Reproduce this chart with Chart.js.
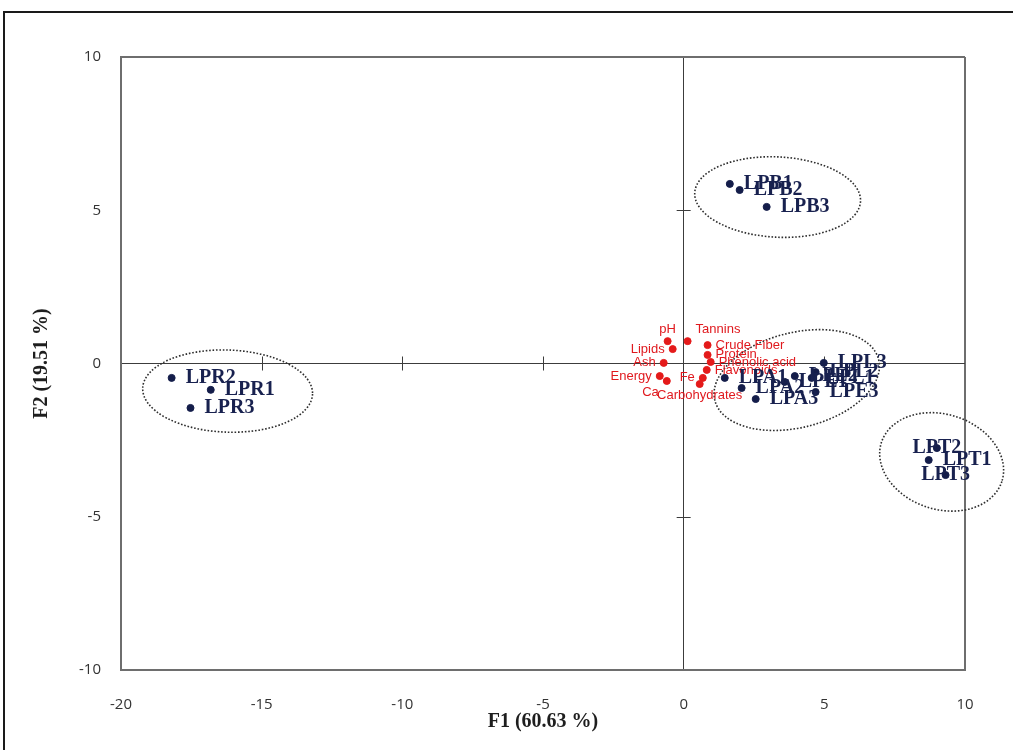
<!DOCTYPE html>
<html>
<head>
<meta charset="utf-8">
<script src="https://cdn.jsdelivr.net/npm/chart.js@4.4.1/dist/chart.umd.min.js"></script>
<style>
  html, body { margin: 0; padding: 0; background: #fff; }
  body { width: 1013px; height: 750px; position: relative; overflow: hidden; }
  #frame { position: absolute; left: 3px; top: 11px; width: 1100px; height: 800px;
           border-left: 2px solid #1a1a1a; border-top: 2px solid #1a1a1a; }
  #wrap { position: absolute; left: 0; top: 0; width: 1013px; height: 750px; }
</style>
</head>
<body>
<div id="frame"></div>
<div id="wrap"><canvas id="pca" width="1013" height="750"></canvas></div>
<script>
// observations (samples)
const obsNames = ["LPB1", "LPB2", "LPB3", "LPR1", "LPR2", "LPR3", "LPT1", "LPT2", "LPT3",
                  "LPE1", "LPE2", "LPE3", "LPL1", "LPL2", "LPL3", "LPA1", "LPA2", "LPA3"];
const obsF1 = [1.64, 1.99, 2.95, -16.81, -18.20, -17.53, 8.71, 9.00, 9.31,
               3.59, 3.95, 4.69, 4.55, 4.69, 4.98, 1.46, 2.06, 2.56];
const obsF2 = [5.86, 5.66, 5.11, -0.86, -0.47, -1.45, -3.15, -2.76, -3.64,
               -0.60, -0.41, -0.93, -0.47, -0.28, 0.02, -0.47, -0.80, -1.16];

// variables
const varNames = ["pH", "Lipids", "Ash", "Energy", "Ca", "Tannins", "Crude Fiber", "Protein",
                  "Phenolic acid", "Flavonoids", "Fe", "Carbohydrates"];
const varF1 = [-0.57, -0.39, -0.71, -0.85, -0.60, 0.14, 0.85, 0.85, 0.96, 0.82, 0.68, 0.57];
const varF2 = [0.73, 0.47, 0.02, -0.41, -0.57, 0.73, 0.60, 0.28, 0.05, -0.21, -0.47, -0.67];

// group ellipses (axis units)
const groupCx = [3.34, -16.21, 9.17, 4.02];
const groupCy = [5.43, -0.90, -3.21, -0.54];
const groupRx = [2.95, 3.02, 2.25, 3.0];
const groupRy = [1.31, 1.34, 1.55, 1.55];
const groupTilt = [3, 2, 18, -14];

const xTicks = [-20, -15, -10, -5, 0, 5, 10];
const yTicks = [-10, -5, 0, 5, 10];

const labelPlacement = {
  LPT2: "center", LPT3: "center",
  pH: "above", Lipids: "left", Ash: "left", Energy: "left", Ca: "belowLeft",
  Tannins: "aboveRight", Fe: "left", Carbohydrates: "below"
};

const frameColor = "#6e6e6e";
const axisColor = "#3c3c3c";

function gridColor(min, max) {
  return ctx => {
    const v = ctx.tick ? ctx.tick.value : null;
    if (v === 0) return axisColor;
    if (v === min || v === max) return frameColor;
    return "rgba(0,0,0,0)";
  };
}
function gridWidth(min, max) {
  return ctx => {
    const v = ctx.tick ? ctx.tick.value : null;
    return (v === min || v === max) ? 2 : 1;
  };
}

const pointLabels = {
  id: "pointLabels",
  afterDatasetsDraw(chart) {
    const ctx = chart.ctx;
    [1, 0].forEach(i => {
      const ds = chart.data.datasets[i];
      const meta = chart.getDatasetMeta(i);
      ctx.save();
      ctx.font = ds.labelFont;
      ctx.fillStyle = ds.labelColor;
      meta.data.forEach((pt, j) => {
        const name = ds.names[j];
        const place = (labelPlacement[name] || "right").toLowerCase();
        const gap = ds.labelGap;
        let x = pt.x, y = pt.y;
        ctx.textAlign = "center";
        ctx.textBaseline = "middle";
        if (place.includes("right")) { ctx.textAlign = "left"; x += gap; }
        else if (place.includes("left")) { ctx.textAlign = "right"; x -= gap; }
        if (place.includes("above")) { ctx.textBaseline = "bottom"; y -= gap * 0.6; }
        else if (place.includes("below")) { ctx.textBaseline = "top"; y += gap * 0.6; }
        ctx.fillText(name, x, y);
      });
      ctx.restore();
    });
  }
};

const groupEllipses = {
  id: "groupEllipses",
  beforeDatasetsDraw(chart) {
    const { ctx, scales: { x, y } } = chart;
    ctx.save();
    ctx.strokeStyle = "#2e2e2e";
    ctx.lineWidth = 1.6;
    ctx.setLineDash([1.6, 1.8]);
    groupCx.forEach((cx, i) => {
      const px = x.getPixelForValue(cx);
      const py = y.getPixelForValue(groupCy[i]);
      const rx = Math.abs(x.getPixelForValue(cx + groupRx[i]) - px);
      const ry = Math.abs(y.getPixelForValue(groupCy[i] + groupRy[i]) - py);
      ctx.beginPath();
      ctx.ellipse(px, py, rx, ry, groupTilt[i] * Math.PI / 180, 0, Math.PI * 2);
      ctx.stroke();
    });
    ctx.restore();
  }
};

// small tick marks crossing the two central axes
const crossTicks = {
  id: "crossTicks",
  beforeDatasetsDraw(chart) {
    const { ctx, scales: { x, y } } = chart;
    const x0 = x.getPixelForValue(0), y0 = y.getPixelForValue(0);
    ctx.save();
    ctx.strokeStyle = axisColor;
    ctx.lineWidth = 1;
    ctx.beginPath();
    x.ticks.forEach(t => {
      if (t.value === 0 || t.value === x.min || t.value === x.max) return;
      const p = Math.round(x.getPixelForValue(t.value)) + 0.5;
      ctx.moveTo(p, y0 - 7); ctx.lineTo(p, y0 + 7);
    });
    y.ticks.forEach(t => {
      if (t.value === 0 || t.value === y.min || t.value === y.max) return;
      const p = Math.round(y.getPixelForValue(t.value)) + 0.5;
      ctx.moveTo(x0 - 7, p); ctx.lineTo(x0 + 7, p);
    });
    ctx.stroke();
    ctx.restore();
  }
};

const tickFont = { family: "'Open Sans', 'DejaVu Sans', sans-serif", size: 15 };
const titleFont = { family: "'Liberation Serif', 'DejaVu Serif', serif", size: 20, weight: "bold" };

new Chart(document.getElementById("pca"), {
  type: "scatter",
  data: {
    datasets: [
      {
        data: obsF1.map((v, i) => ({ x: v, y: obsF2[i] })),
        names: obsNames,
        backgroundColor: "#141d4a",
        borderColor: "#141d4a",
        pointRadius: 3.5,
        labelFont: "bold 20px 'Liberation Serif', serif",
        labelColor: "#18214f",
        labelGap: 14
      },
      {
        data: varF1.map((v, i) => ({ x: v, y: varF2[i] })),
        names: varNames,
        backgroundColor: "#e41a1a",
        borderColor: "#e41a1a",
        pointRadius: 3.5,
        labelFont: "13px 'Liberation Sans', Arial, sans-serif",
        labelColor: "#e0191e",
        labelGap: 8
      }
    ]
  },
  options: {
    responsive: false,
    animation: false,
    events: [],
    layout: { padding: { left: 0, right: 48, top: 57, bottom: 0 } },
    plugins: { legend: { display: false }, tooltip: { enabled: false } },
    scales: {
      x: {
        type: "linear",
        min: -20, max: 10,
        afterBuildTicks: s => { s.ticks = xTicks.map(v => ({ value: v })); },
        afterFit: s => { s.height = 80; },
        ticks: { color: "#333333", font: tickFont, padding: 26 },
        grid: { color: gridColor(-20, 10), lineWidth: gridWidth(-20, 10), drawTicks: false },
        border: { display: true, color: frameColor, width: 2 },
        title: { display: true, text: "F1 (60.63 %)", font: titleFont, color: "#1e1e1e",
                 padding: { top: 0, bottom: 16 } }
      },
      y: {
        type: "linear",
        min: -10, max: 10,
        afterBuildTicks: s => { s.ticks = yTicks.map(v => ({ value: v })); },
        afterFit: s => { s.width = 121; },
        ticks: { color: "#333333", font: tickFont, padding: 20 },
        grid: { color: gridColor(-10, 10), lineWidth: gridWidth(-10, 10), drawTicks: false },
        border: { display: true, color: frameColor, width: 2 },
        title: { display: true, text: "F2 (19.51 %)", font: titleFont, color: "#1e1e1e",
                 padding: { top: 30, bottom: 0 } }
      }
    }
  },
  plugins: [groupEllipses, crossTicks, pointLabels]
});
</script>
</body>
</html>
